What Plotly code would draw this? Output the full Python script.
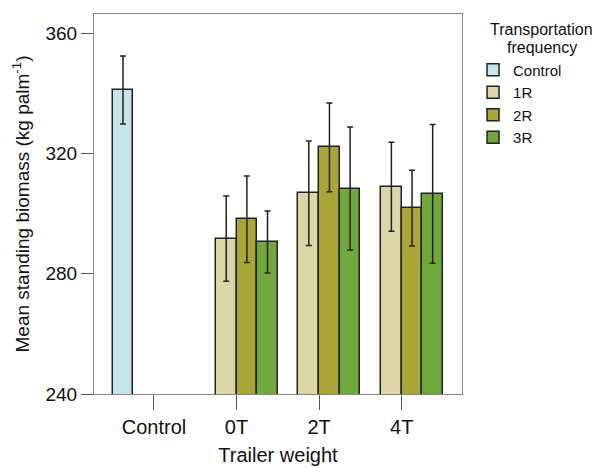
import plotly.graph_objects as go

categories = ["Control", "0T", "2T", "4T"]
series_names = ["Control", "1R", "2R", "3R"]
colors = ["#c6e5ea", "#dcd6a8", "#a9a536", "#70a83e"]
legend_title_lines = ["Transportation", "frequency"]

control_x = ["Control"]
control_mean = [341.2]
control_se = [11.3]

group_x = ["0T", "2T", "4T"]
r1_mean = [291.7, 306.8, 309.0]
r1_se = [14.2, 17.4, 14.8]
r2_mean = [298.2, 322.1, 301.9]
r2_se = [14.4, 14.8, 12.6]
r3_mean = [290.6, 308.4, 306.6]
r3_se = [10.3, 20.5, 23.1]

FONT = "Liberation Sans, Arial, Helvetica, sans-serif"

fig = go.Figure()
data = [
    (control_x, control_mean, control_se),
    (group_x, r1_mean, r1_se),
    (group_x, r2_mean, r2_se),
    (group_x, r3_mean, r3_se),
]
for name, col, (xs, ys, es) in zip(series_names, colors, data):
    fig.add_trace(go.Bar(
        x=xs, y=ys, name=name,
        marker=dict(color=col, line=dict(color="#222222", width=1.5)),
        error_y=dict(type="data", array=es, color="#222222", thickness=1.5, width=3),
    ))

fig.update_layout(
    width=599, height=467,
    margin=dict(l=94, r=137, t=14, b=73, autoexpand=False),
    barmode="group", bargap=0, bargroupgap=0,
    plot_bgcolor="white", paper_bgcolor="white",
    font=dict(family=FONT, color="#111111", size=18),
    legend=dict(
        font=dict(size=15, family=FONT),
        x=1.03, xanchor="left", y=0.896, yanchor="top",
        tracegroupgap=0, itemwidth=30,
        bgcolor="rgba(0,0,0,0)",
    ),
)
for line, ypos in zip(legend_title_lines, [0.958, 0.911]):
    fig.add_annotation(
        text=line, xref="paper", yref="paper", x=1.217, y=ypos,
        xanchor="center", yanchor="middle", showarrow=False,
        font=dict(size=16, family=FONT, color="#111111"),
    )

fig.update_xaxes(
    categoryorder="array", categoryarray=categories,
    range=[-0.726, 3.73], automargin=False,
    showline=True, linecolor="#888888", linewidth=1, mirror=True,
    ticks="outside", ticklen=15, tickcolor="#555555", tickwidth=1,
    tickfont=dict(size=20, family=FONT),
    title=dict(text="Trailer weight", font=dict(size=20, family=FONT), standoff=10),
    showgrid=False, zeroline=False,
)
fig.update_yaxes(
    range=[240, 366.5], automargin=False,
    tickvals=[240, 280, 320, 360],
    showline=True, linecolor="#888888", linewidth=1, mirror=True,
    ticks="outside", ticklen=12, tickcolor="#555555", tickwidth=1,
    tickfont=dict(size=19, family=FONT),
    title=dict(text="Mean standing biomass (kg palm<sup>-1</sup>)",
               font=dict(size=19, family=FONT), standoff=10),
    showgrid=False, zeroline=False,
)

fig.write_html("out.html")
